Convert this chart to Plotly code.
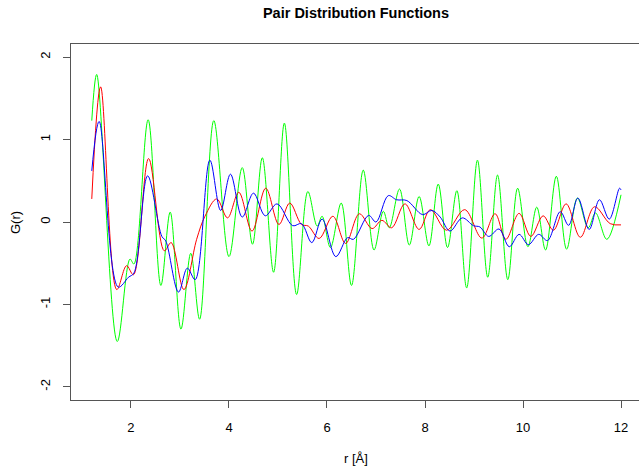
import plotly.graph_objects as go

green_r = [1.20, 1.30, 1.72, 1.98, 2.06, 2.35, 2.61, 2.80, 3.02, 3.22, 3.40, 3.69, 4.00, 4.27,
           4.48, 4.68, 4.91, 5.13, 5.38, 5.61, 5.80, 5.90, 6.07, 6.29, 6.50, 6.74, 6.96, 7.15,
           7.27, 7.48, 7.68, 7.88, 8.08, 8.27, 8.46, 8.65, 8.85, 9.07, 9.28, 9.48, 9.69, 9.89,
           10.10, 10.28, 10.46, 10.68, 10.89, 11.11, 11.33, 11.48, 11.71, 12.00]
green_g = [1.23, 1.79, -1.45, -0.45, -0.51, 1.24, -0.77, 0.12, -1.30, -0.38, -1.18, 1.23, -0.42, 0.66,
           -0.27, 0.78, -0.61, 1.20, -0.88, 0.37, -0.05, 0.07, -0.31, 0.23, -0.77, 0.63, -0.34, 0.13,
           -0.07, 0.40, -0.28, 0.31, -0.29, 0.46, -0.31, 0.38, -0.80, 0.75, -0.67, 0.57, -0.70, 0.41,
           -0.30, 0.18, -0.34, 0.555, -0.33, 0.29, -0.07, 0.11, -0.21, 0.33]

red_r = [1.20, 1.38, 1.71, 1.91, 2.05, 2.36, 2.68, 2.82, 3.08, 3.34, 3.51, 3.75, 3.97, 4.20,
         4.47, 4.75, 5.02, 5.24, 5.48, 5.62, 5.84, 6.12, 6.38, 6.66, 6.92, 7.12, 7.32, 7.59,
         7.88, 8.11, 8.44, 8.81, 9.16, 9.43, 9.65, 9.92, 10.16, 10.41, 10.62, 10.88, 11.17,
         11.46, 11.78, 12.00]
red_g = [0.28, 1.64, -0.82, -0.53, -0.64, 0.77, -0.35, -0.25, -0.82, -0.21, 0.07, 0.28, 0.05, 0.36,
         -0.11, 0.41, -0.03, 0.23, -0.03, -0.05, -0.20, 0.07, -0.26, 0.10, -0.08, 0.02, -0.07, 0.22,
         -0.09, 0.15, -0.10, 0.15, -0.195, 0.10, -0.21, 0.105, -0.175, 0.075, -0.10, 0.22, -0.185,
         0.185, -0.02, -0.035]

blue_r = [1.20, 1.35, 1.74, 1.95, 2.06, 2.34, 2.63, 2.71, 2.97, 3.15, 3.31, 3.61, 3.83, 4.03,
          4.27, 4.50, 4.74, 4.98, 5.30, 5.48, 5.69, 5.90, 6.18, 6.42, 6.54, 6.85, 7.00, 7.25,
          7.42, 7.63, 7.95, 8.14, 8.31, 8.51, 8.76, 8.99, 9.12, 9.30, 9.51, 9.72, 9.92, 10.11,
          10.32, 10.50, 10.76, 10.93, 11.12, 11.35, 11.56, 11.76, 11.97, 12.00]
blue_g = [0.62, 1.22, -0.79, -0.67, -0.62, 0.56, -0.175, -0.23, -0.85, -0.56, -0.70, 0.75, 0.14, 0.58,
          0.06, 0.35, 0.075, 0.22, -0.045, -0.02, -0.25, 0.035, -0.42, -0.19, -0.21, 0.08, 0.0, 0.32,
          0.27, 0.26, 0.09, 0.14, 0.06, -0.11, 0.05, -0.045, -0.06, -0.175, -0.085, -0.30, -0.15, -0.275,
          -0.15, -0.225, 0.125, -0.04, 0.29, -0.09, 0.27, 0.035, 0.41, 0.39]

x_ticks = [2, 4, 6, 8, 10, 12]
y_ticks = [-2, -1, 0, 1, 2]

FONT = "Liberation Sans, Arial, Helvetica, sans-serif"

# plot area in pixels: left 71, right 639, top 44, bottom 400
PL, PR, PT, PB = 71, 639, 44, 400
def px_to_paper(px, py):
    return (px - PL) / (PR - PL), (PB - py) / (PB - PT)

fig = go.Figure()
for xs, ys, col in [(green_r, green_g, "#00FF00"), (red_r, red_g, "#FF0000"), (blue_r, blue_g, "#0000FF")]:
    fig.add_trace(go.Scatter(x=xs, y=ys, mode="lines",
                             line=dict(color=col, width=1.0, shape="spline", smoothing=1.0),
                             showlegend=False, hoverinfo="skip"))

xl_x, xl_y = px_to_paper(356, 459)
yl_x, yl_y = px_to_paper(15, 223)

fig.update_layout(
    width=639, height=470,
    margin=dict(l=PL, r=639 - PR, t=PT, b=470 - PB),
    paper_bgcolor="white", plot_bgcolor="white",
    font=dict(family=FONT, color="#000000", size=13),
    showlegend=False,
    title=dict(text="<b>Pair Distribution Functions</b>", x=356/639, xanchor="center",
               y=1 - 12.5/470, yanchor="middle", yref="container",
               font=dict(family=FONT, size=14.5, color="#000000")),
    xaxis=dict(range=[0.776, 12.367], tickvals=x_ticks, ticktext=[str(v) for v in x_ticks],
               ticks="outside", ticklen=7, tickwidth=1, tickcolor="#555555",
               showline=True, linecolor="#555555", linewidth=1.3, mirror=True,
               showgrid=False, zeroline=False, ticklabelstandoff=8,
               tickfont=dict(size=13, family=FONT, color="#000000")),
    yaxis=dict(range=[-2.16, 2.16], tickvals=y_ticks, ticktext=[str(v) for v in y_ticks],
               ticks="outside", ticklen=7, tickwidth=1, tickcolor="#555555",
               showline=True, linecolor="#555555", linewidth=1.3, mirror=False,
               showgrid=False, zeroline=False, tickangle=-90, ticklabelstandoff=8,
               tickfont=dict(size=13, family=FONT, color="#000000")),
    annotations=[
        dict(text="r [Å]", x=xl_x, y=xl_y, xref="paper", yref="paper",
             xanchor="center", yanchor="middle", showarrow=False,
             font=dict(family=FONT, size=13, color="#000000")),
        dict(text="G(r)", x=yl_x, y=yl_y, xref="paper", yref="paper",
             xanchor="center", yanchor="middle", showarrow=False, textangle=-90,
             font=dict(family=FONT, size=13, color="#000000")),
    ],
)

fig.write_html("out.html")
